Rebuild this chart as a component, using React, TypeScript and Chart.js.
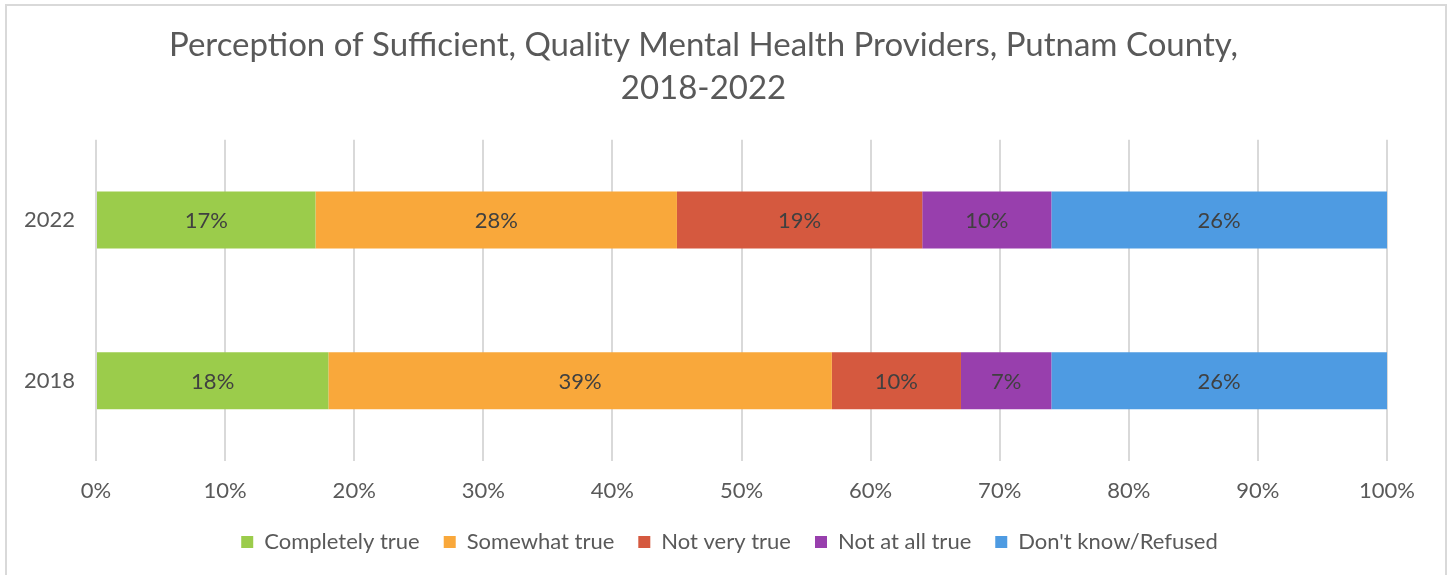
import React, { useEffect, useRef } from "react";
import { Chart, registerables } from "chart.js";

Chart.register(...registerables);

const years = ["2022", "2018"];
const seriesNames = ["Completely true", "Somewhat true", "Not very true", "Not at all true", "Don't know/Refused"];
const completelyTrue = [17, 18];
const somewhatTrue = [28, 39];
const notVeryTrue = [19, 10];
const notAtAllTrue = [10, 7];
const dontKnow = [26, 26];
const seriesColors = ["#9BCC4B", "#F9A83B", "#D5593F", "#983FAD", "#4E9BE2"];
const titleLines = ["Perception of Sufficient, Quality Mental Health Providers, Putnam County,", "2018-2022"];

const FONT = "Lato, 'Noto Sans', sans-serif";

const framePlugin = {
  id: "frame",
  beforeDraw(chart: any) {
    const { ctx, width, height } = chart;
    ctx.save();
    ctx.fillStyle = "#ffffff";
    ctx.fillRect(0, 0, width, height);
    ctx.strokeStyle = "#d9d9d9";
    ctx.lineWidth = 2;
    ctx.strokeRect(6, 5, 1440, 580);
    ctx.restore();
  },
};

const legendShiftPlugin = {
  id: "legendShift",
  afterLayout(chart: any) {
    const lg = chart.legend;
    if (lg) {
      lg.left += 26;
      lg.right += 26;
    }
  },
};

const labelPlugin = {
  id: "barLabels",
  afterDatasetsDraw(chart: any) {
    const { ctx } = chart;
    ctx.save();
    ctx.font = `22px ${FONT}`;
    ctx.fillStyle = "#404040";
    ctx.textAlign = "center";
    ctx.textBaseline = "middle";
    chart.data.datasets.forEach((ds: any, i: number) => {
      const meta = chart.getDatasetMeta(i);
      meta.data.forEach((bar: any, j: number) => {
        const v = ds.data[j];
        const p = bar.getCenterPoint();
        ctx.fillText(`${v}%`, p.x, p.y + 1);
      });
    });
    ctx.restore();
  },
};

export default function App() {
  const ref = useRef<HTMLCanvasElement>(null);
  useEffect(() => {
    document.body.style.margin = "0";
    const values = [completelyTrue, somewhatTrue, notVeryTrue, notAtAllTrue, dontKnow];
    const chart = new Chart(ref.current!, {
      type: "bar",
      data: {
        labels: years,
        datasets: seriesNames.map((name, i) => ({
          label: name,
          data: values[i],
          backgroundColor: seriesColors[i],
          borderWidth: 0,
          barPercentage: 0.355,
          categoryPercentage: 1,
        })),
      },
      options: {
        indexAxis: "y",
        animation: false,
        responsive: false,
        layout: { padding: { left: 20, right: 62, top: 18, bottom: 12 } },
        scales: {
          x: {
            stacked: true,
            min: 0,
            max: 100,
            ticks: {
              stepSize: 10,
              callback: (v: any) => `${v}%`,
              color: "#595959",
              font: { family: FONT, size: 22 },
              padding: 17,
              maxRotation: 0,
            },
            grid: { color: "#d9d9d9", lineWidth: 2, drawTicks: false },
            border: { display: false },
            afterFit: (scale: any) => {
              scale.height = 46;
            },
          },
          y: {
            stacked: true,
            ticks: {
              color: "#595959",
              font: { family: FONT, size: 22 },
              padding: 21,
            },
            grid: { display: false, drawTicks: false },
            border: { display: false },
            afterFit: (scale: any) => {
              scale.width = 76;
            },
          },
        },
        plugins: {
          title: {
            display: true,
            text: titleLines,
            color: "#595959",
            font: { family: FONT, size: 33, weight: "normal", lineHeight: 1.3 },
            padding: { top: 6, bottom: 30 },
          },
          legend: {
            position: "bottom",
            labels: {
              boxWidth: 12,
              boxHeight: 12,
              color: "#595959",
              font: { family: FONT, size: 22 },
              padding: 24,
            },
          },
          tooltip: { enabled: false },
        },
      },
      plugins: [framePlugin, labelPlugin, legendShiftPlugin],
    });
    return () => chart.destroy();
  }, []);
  return <canvas ref={ref} width={1449} height={575} style={{ display: "block" }} />;
}
